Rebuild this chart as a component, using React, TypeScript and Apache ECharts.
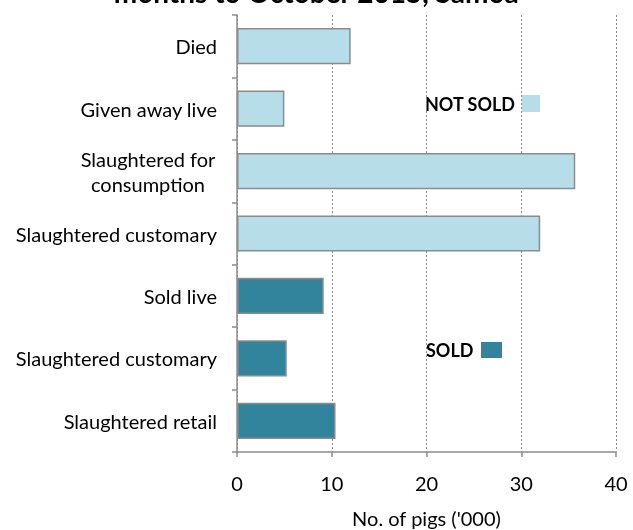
import React, { useEffect, useRef } from "react";
import * as echarts from "echarts";

const categories = [
  "Died",
  "Given away live",
  "Slaughtered for\nconsumption",
  "Slaughtered customary",
  "Sold live",
  "Slaughtered customary",
  "Slaughtered retail",
];
const values = [12, 5, 35.7, 32, 9.15, 5.25, 10.4];
const groups = ["NOT SOLD", "NOT SOLD", "NOT SOLD", "NOT SOLD", "SOLD", "SOLD", "SOLD"];
const xTicks = [0, 10, 20, 30, 40];
const groupColors: Record<string, string> = { "NOT SOLD": "#B7DDE8", SOLD: "#31849B" };
const titleText = "months to October 2015, Samoa";
const xAxisName = "No. of pigs ('000)";

const FONT = "Lato, 'Open Sans', sans-serif";

export default function App() {
  const ref = useRef<HTMLDivElement>(null);
  useEffect(() => {
    if (!ref.current) return;
    const chart = echarts.init(ref.current, undefined, { renderer: "svg" });
    chart.setOption({
      animation: false,
      textStyle: { fontFamily: FONT },
      grid: { left: 237, right: 17, top: 15, bottom: 78, containLabel: false, outerBoundsMode: "none" },
      xAxis: {
        type: "value",
        min: xTicks[0],
        max: xTicks[xTicks.length - 1],
        interval: 10,
        name: xAxisName,
        nameLocation: "middle",
        nameGap: 56,
        nameTextStyle: { fontSize: 20, color: "#000", fontFamily: FONT },
        axisLine: { show: true, lineStyle: { color: "#8c8c8c", width: 1.5 } },
        axisTick: { show: true, length: 5, lineStyle: { color: "#8c8c8c", width: 1.5 } },
        axisLabel: { fontSize: 20, color: "#000", margin: 21, fontFamily: FONT },
        splitLine: { show: true, lineStyle: { color: "#8c8c8c", type: [2, 2], width: 1 } },
      },
      yAxis: {
        type: "category",
        data: categories,
        inverse: true,
        axisLine: { show: true, lineStyle: { color: "#8c8c8c", width: 1.5 } },
        axisTick: { show: true, length: 5, lineStyle: { color: "#8c8c8c", width: 1.5 } },
        axisLabel: {
          fontSize: 20,
          color: "#000",
          margin: 20,
          lineHeight: 25,
          fontFamily: FONT,
          formatter: (v: string) =>
            v.indexOf("\n") >= 0
              ? v
                  .split("\n")
                  .map((l) => `{w|${l}}`)
                  .join("\n")
              : v,
          rich: {
            w: { width: 138, align: "center", fontSize: 20, lineHeight: 25, fontFamily: FONT, color: "#000" },
          },
        },
        splitLine: { show: false },
      },
      series: [
        {
          type: "bar",
          barCategoryGap: "42%",
          data: values.map((v, i) => ({
            value: v,
            itemStyle: {
              color: groupColors[groups[i]],
              borderColor: "#8c8c8c",
              borderWidth: 1.5,
            },
          })),
        },
      ],
      graphic: [
        {
          type: "text",
          left: "center",
          top: -22,
          style: { text: titleText, font: `bold 28px ${FONT}`, fill: "#000" },
        },
        {
          type: "text",
          x: 425,
          y: 104,
          style: { text: "NOT SOLD", font: `bold 18px ${FONT}`, fill: "#000", verticalAlign: "middle" },
        },
        { type: "rect", shape: { x: 522, y: 95, width: 18, height: 17 }, style: { fill: groupColors["NOT SOLD"] } },
        {
          type: "text",
          x: 426,
          y: 350,
          style: { text: "SOLD", font: `bold 18px ${FONT}`, fill: "#000", verticalAlign: "middle" },
        },
        { type: "rect", shape: { x: 481, y: 342, width: 21, height: 16 }, style: { fill: groupColors["SOLD"] } },
      ],
    });
    return () => chart.dispose();
  }, []);
  return <div ref={ref} style={{ position: "fixed", left: 0, top: 0, width: 633, height: 530 }} />;
}
